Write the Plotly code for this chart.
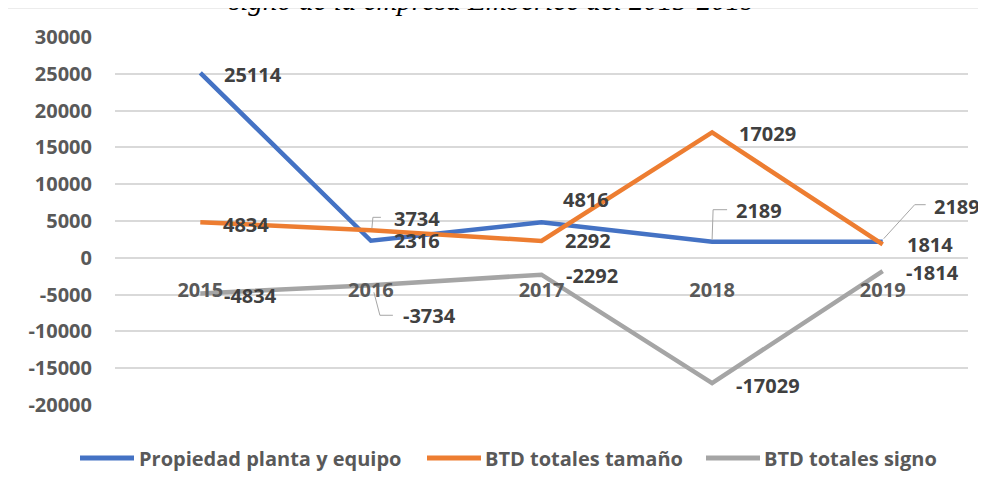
import plotly.graph_objects as go

# ---- data ----
years = ["2015", "2016", "2017", "2018", "2019"]
propiedad = [25114, 2316, 4816, 2189, 2189]
btd_tamano = [4834, 3734, 2292, 17029, 1814]
btd_signo = [-4834, -3734, -2292, -17029, -1814]
series_names = ["Propiedad planta y equipo", "BTD totales tamaño", "BTD totales signo"]
y_ticks = [30000, 25000, 20000, 15000, 10000, 5000, 0, -5000, -10000, -15000, -20000]
title_text = "signo de la empresa Emberlec del 2015-2019"

# ---- style ----
colors = ["#4472C4", "#ED7D31", "#A5A5A5"]
FONT = "Open Sans"
LABEL_COLOR = "#404040"
AXIS_COLOR = "#595959"
GRID = "#D9D9D9"

# page has an 8px body margin: figure pixel = screen pixel - 8
W, H = 978, 482
PL, PR, PT, PB = 107, 960, 29, 397  # plot area in figure pixels
PW, PH = PR - PL, PB - PT


def px_x(sx):
    return (sx - 8 - PL) / PW


def px_y(sy):
    return (PB - (sy - 8)) / PH


# label pixel offsets (dx right, dy down) per series / point
offsets = [
    [(53, 2), (46, 0), (44, -23), (47, -31), (74, -35)],
    [(46, 2), (46, -12), (46, 0), (55, 1), (47, 0)],
    [(50, 2), (59, 30), (50, 1), (56, 2), (50, 1)],
]
# leader lines: (series, point index, path in pixel offsets, y up)
leaders = [
    (1, 1, "M 1,2 L 2,13 L 10,13"),
    (0, 3, "M 0,2 L 1,32 L 15,32"),
    (0, 4, "M 1,3 L 32,37 L 43,37"),
    (2, 1, "M 3,-7 L 9,-30 L 22,-30"),
]
# manual legend layout (screen px): sample start, sample end, text start
legend_pos = [(80, 134, 137), (427, 481, 483), (706, 760, 762)]
LEGEND_Y = 458

all_series = [propiedad, btd_tamano, btd_signo]

fig = go.Figure()
for name, vals, col in zip(series_names, all_series, colors):
    fig.add_trace(go.Scatter(
        x=years, y=vals, name=name, mode="lines",
        line=dict(color=col, width=4.5),
        hoverinfo="skip", showlegend=False,
    ))

annotations = []
for s, vals in enumerate(all_series):
    for i, v in enumerate(vals):
        dx, dy = offsets[s][i]
        annotations.append(dict(
            x=i, y=v, xref="x", yref="y", text=str(v), showarrow=False,
            xanchor="center", yanchor="middle", xshift=dx, yshift=-dy,
            font=dict(family=FONT, size=20, weight="bold", color=LABEL_COLOR),
        ))

# title (cut off at top)
annotations.append(dict(
    x=px_x(492), y=px_y(18), xref="paper", yref="paper",
    text=title_text, showarrow=False, xanchor="center", yanchor="bottom",
    font=dict(family="Liberation Serif", size=29, style="italic", color="#000000"),
))

shapes = []
for s, i, path in leaders:
    shapes.append(dict(
        type="path", xref="x", yref="y", xsizemode="pixel", ysizemode="pixel",
        xanchor=i, yanchor=all_series[s][i], path=path,
        line=dict(color="#A6A6A6", width=1),
    ))
# chart frame
shapes.append(dict(
    type="rect", xref="paper", yref="paper",
    x0=px_x(7), x1=px_x(1010),
    y0=px_y(520), y1=px_y(8),
    line=dict(color="#D9D9D9", width=1), fillcolor="rgba(0,0,0,0)", layer="below",
))

# legend drawn by hand to match the spacing of the original
for name, col, (sx0, sx1, tx) in zip(series_names, colors, legend_pos):
    shapes.append(dict(
        type="line", xref="paper", yref="paper",
        x0=px_x(sx0), x1=px_x(sx1), y0=px_y(LEGEND_Y), y1=px_y(LEGEND_Y),
        line=dict(color=col, width=5),
    ))
    annotations.append(dict(
        x=px_x(tx), y=px_y(LEGEND_Y), xref="paper", yref="paper",
        text=name, showarrow=False, xanchor="left", yanchor="middle",
        font=dict(family=FONT, size=20, weight="bold", color=AXIS_COLOR),
    ))

fig.update_layout(
    width=W, height=H,
    margin=dict(l=PL, r=W - PR, t=PT, b=H - PB),
    paper_bgcolor="white", plot_bgcolor="white",
    showlegend=False,
    annotations=annotations,
    shapes=shapes,
    xaxis=dict(
        type="category", range=[-0.5, 4.5], anchor="free", position=0.4,
        showgrid=False, showline=False, zeroline=False, ticks="",
        tickfont=dict(family=FONT, size=20, weight="bold", color=AXIS_COLOR),
        ticklabelstandoff=18,
    ),
    yaxis=dict(
        range=[-20000, 30000], tickvals=y_ticks, ticktext=[str(t) for t in y_ticks],
        showgrid=True, gridcolor=GRID, gridwidth=1.5,
        zeroline=True, zerolinecolor=GRID, zerolinewidth=1.5,
        showline=False, ticks="",
        tickfont=dict(family=FONT, size=20, weight="bold", color=AXIS_COLOR),
        ticklabelstandoff=22,
    ),
)

fig.write_html("out.html", config={"displayModeBar": False})
